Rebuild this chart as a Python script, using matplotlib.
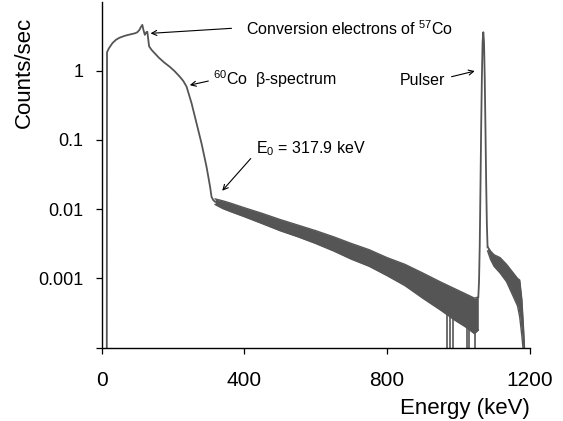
import numpy as np
import matplotlib
matplotlib.use("Agg")
import matplotlib.pyplot as plt

plt.rcParams['font.family'] = ['Liberation Sans', 'DejaVu Sans']
plt.rcParams['mathtext.fontset'] = 'custom'
plt.rcParams['mathtext.rm'] = 'Liberation Sans'
plt.rcParams['mathtext.it'] = 'Liberation Sans:italic'
plt.rcParams['mathtext.bf'] = 'Liberation Sans:bold'

# ---- data ----
# smooth low-energy part: 57Co conversion electrons + 60Co beta spectrum
beta_E = [14, 15, 20, 30, 40, 50, 65, 80, 93, 100, 106, 110, 114, 117, 121, 125,
          128, 130, 133, 140, 149, 160, 175, 191, 205, 219, 229, 238, 252, 266,
          280, 294, 304, 308, 313, 318]
beta_cps = [1e-6, 1.85, 2.1, 2.5, 2.8, 3.0, 3.2, 3.35, 3.47, 3.6, 3.9, 4.3, 4.6,
            3.9, 3.3, 3.6, 3.66, 3.0, 2.25, 2.0, 1.78, 1.55, 1.32, 1.14, 0.98,
            0.82, 0.71, 0.59, 0.34, 0.174, 0.089, 0.041, 0.021, 0.0151, 0.0135,
            0.0128]

# noisy tail above the endpoint: upper / lower envelope of the noise band
tail_E = [318, 340, 360, 400, 450, 500, 550, 600, 650, 700, 750, 800, 850, 900,
          950, 990, 1020, 1045, 1056]
tail_hi = [0.0141, 0.0132, 0.0123, 0.0105, 0.0087, 0.0071, 0.0059, 0.0049,
           0.0040, 0.0032, 0.0026, 0.0020, 0.0016, 0.0012, 0.00089, 0.00071,
           0.00060, 0.00052, 0.00054]
tail_lo = [0.0117, 0.0102, 0.0093, 0.0078, 0.0062, 0.0049, 0.0040, 0.0032,
           0.0025, 0.0019, 0.0015, 0.0011, 0.00079, 0.00052, 0.00035, 0.00025,
           0.00020, 0.00016, 0.00018]

# channels with zero counts (noise spikes to the floor)
spike_E = [967, 976, 986, 1023, 1030, 1046]
spike_top = [0.00032, 0.0003, 0.00026, 0.00021, 0.0002, 0.00017]

# pulser peak
pulser_E = [1056, 1058, 1060, 1062, 1064, 1066, 1068, 1070, 1072, 1074, 1076,
            1078, 1080, 1082]
pulser_cps = [0.00054, 0.0009, 0.003, 0.02, 0.15, 0.8, 2.6, 3.6, 2.6, 0.8,
              0.15, 0.025, 0.006, 0.0028]

# tail after the pulser
post_E = [1082, 1090, 1100, 1117, 1135, 1154, 1166, 1172, 1178, 1183, 1187]
post_hi = [0.0029, 0.0025, 0.0022, 0.0020, 0.0016, 0.0012, 0.0010, 0.00095,
           0.00050, 0.00018, 0.00007]
post_lo = [0.0025, 0.0019, 0.0015, 0.0012, 0.0009, 0.00055, 0.00040, 0.00028,
           0.00015, 0.00008, 0.00004]

x_ticks = [0, 400, 800, 1200]
y_ticks = [1e-4, 1e-3, 1e-2, 1e-1, 1]
y_ticklabels = ['', '0.001', '0.01', '0.1', '1']

color = '#555555'
floor = 1e-6

fig = plt.figure(figsize=(5.63, 4.21), dpi=100)
ax = fig.add_axes([0.1806, 0.1741, 0.7602, 0.8223])

ax.plot(beta_E, beta_cps, color=color, lw=1.3, solid_joinstyle='round')
ax.fill_between(tail_E, tail_lo, tail_hi, color=color, lw=0)
ax.plot(tail_E, tail_hi, color=color, lw=1.0)
ax.plot(tail_E, tail_lo, color=color, lw=1.0)
ax.vlines(spike_E, floor, spike_top, color=color, lw=1.2)
ax.plot(pulser_E, pulser_cps, color=color, lw=1.3)
ax.fill_between(post_E, post_lo, post_hi, color=color, lw=0)
ax.plot(post_E, post_hi, color=color, lw=1.0)
ax.plot(post_E, post_lo, color=color, lw=1.0)

ax.set_yscale('log')
ax.set_xlim(0, 1200)
ax.set_ylim(1e-4, 10)
ax.set_xticks(x_ticks)
ax.set_yticks(y_ticks)
ax.set_yticklabels(y_ticklabels)
ax.yaxis.set_minor_locator(matplotlib.ticker.NullLocator())
ax.tick_params(axis='y', which='major', direction='out', length=4, width=0.9,
               labelsize=13, pad=9)
ax.tick_params(axis='x', which='major', direction='out', length=4, width=0.9,
               labelsize=15, pad=13)
for s in ['top', 'right']:
    ax.spines[s].set_visible(False)
for s in ['left', 'bottom']:
    ax.spines[s].set_linewidth(1.0)

ax.set_ylabel('Counts/sec', fontsize=16)
ax.yaxis.set_label_coords(-0.155, 0.795)
ax.set_xlabel('Energy (keV)', fontsize=16, loc='right')
ax.xaxis.set_label_coords(1.0, -0.145)

arrow = dict(arrowstyle='->', color='black', lw=0.8, shrinkA=0, shrinkB=0,
             mutation_scale=9)
fs = 11.5
ax.annotate('', xy=(137, 3.47), xytext=(364, 4.1), arrowprops=arrow)
ax.text(406, 4.1, 'Conversion electrons of $\\mathregular{^{57}}$Co',
        fontsize=fs, ha='left', va='center')
ax.annotate('', xy=(247, 0.62), xytext=(299, 0.71), arrowprops=arrow)
ax.text(313, 0.76, '$\\mathregular{^{60}}$Co  \u03b2-spectrum',
        fontsize=fs, ha='left', va='center')
ax.annotate('', xy=(338, 0.0185), xytext=(418, 0.054), arrowprops=arrow)
ax.text(434, 0.0757, 'E$\\mathregular{_0}$ = 317.9 keV',
        fontsize=fs, ha='left', va='center')
ax.annotate('', xy=(1046, 0.99), xytext=(981, 0.82), arrowprops=arrow)
ax.text(962, 0.734, 'Pulser', fontsize=fs, ha='right', va='center')

fig.savefig('out.png', dpi=100)
